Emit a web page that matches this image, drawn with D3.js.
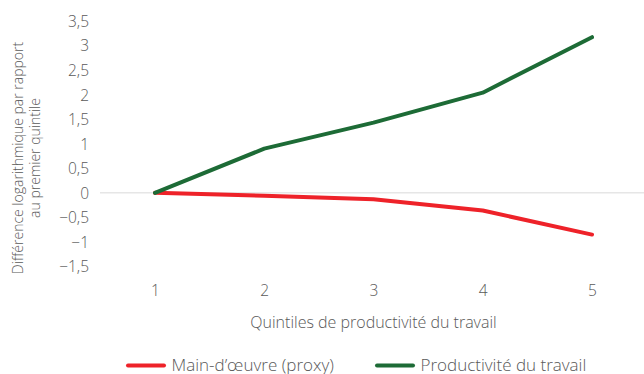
<!DOCTYPE html>
<html><head><meta charset="utf-8">
<script src="https://cdn.jsdelivr.net/npm/d3@7"></script>
<style>
body{margin:0;background:#fff;}
text{font-family:"Open Sans",sans-serif;font-weight:300;fill:#595959;}
</style></head>
<body><svg id="c" width="644" height="374"></svg>
<script>
const categories = ["1","2","3","4","5"];
const mainOeuvre = [0, -0.06, -0.13, -0.36, -0.85];
const productivite = [0, 0.9, 1.43, 2.04, 3.17];
const yTicks = [-1.5,-1,-0.5,0,0.5,1,1.5,2,2.5,3,3.5];
const seriesNames = ["Main-d\u2019œuvre (proxy)", "Productivité du travail"];
const colors = ["#ee2229", "#1d6b36"];

const svg = d3.select("#c");
const x = d3.scalePoint().domain(categories).range([155, 592]);
const y = d3.scaleLinear().domain([-1.5, 3.5]).range([266.5, 21]);
const fmt = d => (d<0?"\u2212":"") + String(Math.abs(d)).replace(".", ",");

// zero line
svg.append("line").attr("x1",100).attr("x2",644).attr("y1",y(0)).attr("y2",y(0))
  .attr("stroke","#d9d9d9").attr("stroke-width",1);

// y axis
const ya = svg.append("g").attr("transform","translate(89,0)")
  .call(d3.axisLeft(y).tickValues(yTicks).tickFormat(fmt).tickSize(0).tickPadding(0));
ya.select(".domain").remove();
ya.selectAll("text").style("font-size","15.5px").attr("dy","0.35em");

// x axis
const xa = svg.append("g").attr("transform","translate(0,296)")
  .call(d3.axisBottom(x).tickSize(0).tickPadding(0));
xa.select(".domain").remove();
xa.selectAll("text").style("font-size","15.5px").attr("y",0).attr("dy","0");

// axis titles
svg.append("text").attr("x",x("3")).attr("y",328).attr("text-anchor","middle")
  .style("font-size","16px").text("Quintiles de productivité du travail");
const yt = svg.append("text").attr("transform","translate(0,158) rotate(-90)").attr("text-anchor","middle")
  .style("font-size","14px");
yt.append("tspan").attr("x",0).attr("y",23).text("Différence logarithmique par rapport");
yt.append("tspan").attr("x",0).attr("y",40).text("au premier quintile");

// lines
const line = d3.line().x((d,i)=>x(categories[i])).y(d=>y(d));
[mainOeuvre, productivite].forEach((s,i)=>{
  svg.append("path").datum(s).attr("d",line).attr("fill","none")
    .attr("stroke",colors[i]).attr("stroke-width",4).attr("stroke-linecap","round").attr("stroke-linejoin","round");
});

// legend
const legX = [128, 377];
seriesNames.forEach((n,i)=>{
  svg.append("line").attr("x1",legX[i]).attr("x2",legX[i]+36).attr("y1",365.5).attr("y2",365.5)
    .attr("stroke",colors[i]).attr("stroke-width",4).attr("stroke-linecap","round");
  svg.append("text").attr("x",legX[i]+43.5).attr("y",365.5).attr("dy","0.35em")
    .style("font-size","17px").text(n);
});
</script></body></html>
